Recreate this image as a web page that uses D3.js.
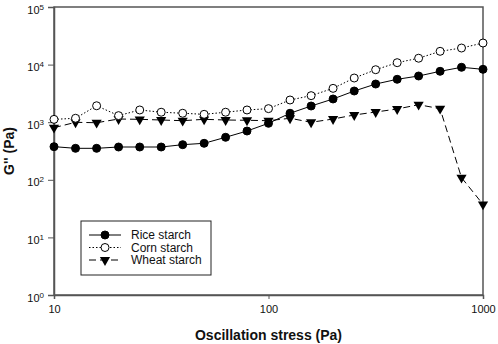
<!DOCTYPE html>
<html>
<head>
<meta charset="utf-8">
<script src="https://cdn.jsdelivr.net/npm/d3@7"></script>
<style>
  body { margin: 0; background: #fff; }
  text { font-family: "Liberation Sans", Arial, sans-serif; }
</style>
</head>
<body>
<div id="chart-area"></div>
<script>
// oscillation stress steps (Pa), 10 per decade
var stress = [10, 12.6, 15.8, 20, 25.1, 31.6, 39.8, 50.1, 63.1, 79.4,
              100, 126, 158, 200, 251, 316, 398, 501, 631, 794, 1000];

var rice = [376, 352, 352, 371, 371, 371, 407, 430, 547, 703,
            957, 1430, 1910, 2530, 3480, 4600, 5560, 6340, 7650, 8980, 8280];
var corn = [1120, 1170, 1930, 1300, 1630, 1490, 1430, 1370, 1490, 1630,
            1720, 2430, 2890, 3870, 5850, 8150, 10800, 12900, 17000, 19400, 23700];
var wheat = [803, 996, 979, 1136, 1122, 1092, 1062, 1122, 1092, 1080,
             1062, 1170, 996, 1136, 1334, 1503, 1694, 2014, 1715, 109, 37.5];

var seriesNames = ['Rice starch', 'Corn starch', 'Wheat starch'];
var xTicks = [10, 100, 1000];
var yTicks = [1, 10, 100, 1000, 10000, 100000];

var margins = { top: 7, bottom: 49, left: 54, right: 15 };
var width = 498 - margins.left - margins.right;
var height = 344 - margins.top - margins.bottom;

var svg = d3.select('#chart-area')
    .append('svg')
    .attr('width', 498)
    .attr('height', 344);

var g = svg.append('g')
    .attr('transform', `translate(${margins.left}, ${margins.top})`);

var x = d3.scaleLog().domain([10, 1000]).range([0, width]);
var y = d3.scaleLog().domain([1, 100000]).range([height, 0]);

var axisColor = '#555';

// frame
g.append('rect')
    .attr('width', width)
    .attr('height', height)
    .attr('fill', 'none')
    .attr('stroke', axisColor)
    .attr('stroke-width', 1.5);

var xAxis = g.append('g')
    .attr('transform', `translate(0, ${height})`)
    .call(d3.axisBottom(x).tickValues(xTicks).tickSize(4).tickPadding(6).tickFormat(d3.format('d')));

var yAxis = g.append('g')
    .call(d3.axisLeft(y).tickValues(yTicks).tickSize(6).tickPadding(4).tickFormat(''));

[xAxis, yAxis].forEach(a => {
    a.select('.domain').attr('stroke', axisColor).attr('stroke-width', 1.5);
    a.selectAll('.tick line').attr('stroke', axisColor).attr('stroke-width', 1);
    a.selectAll('.tick text')
        .attr('fill', '#111')
        .attr('font-size', '11px')
        .attr('font-family', '"Liberation Sans", Arial, sans-serif');
});

yAxis.selectAll('.tick text').each(function(d) {
    var t = d3.select(this);
    t.attr('dy', '0.55em');
    t.append('tspan').text('10');
    t.append('tspan').attr('font-size', '8px').attr('dy', '-0.5em').text(Math.round(Math.log10(d)));
});

g.append('text')
    .attr('x', width / 2)
    .attr('y', height + 45)
    .attr('font-size', '14px')
    .attr('font-weight', 'bold')
    .attr('text-anchor', 'middle')
    .attr('fill', '#111')
    .text('Oscillation stress (Pa)');

g.append('text')
    .attr('transform', 'rotate(-90)')
    .attr('x', -height / 2)
    .attr('y', -40)
    .attr('font-size', '14px')
    .attr('font-weight', 'bold')
    .attr('text-anchor', 'middle')
    .attr('fill', '#111')
    .text("G'' (Pa)");

var series = [
    { name: seriesNames[0], values: rice, dash: null, marker: 'filled' },
    { name: seriesNames[1], values: corn, dash: '1.5,2', marker: 'open' },
    { name: seriesNames[2], values: wheat, dash: '7,4', marker: 'triangle' }
];

var line = d3.line()
    .x((d, i) => x(stress[i]))
    .y(d => y(d));

var tri = d3.symbol().type(d3.symbolTriangle).size(45);

function drawMarker(sel, kind) {
    if (kind === 'triangle') {
        sel.append('path')
            .attr('d', tri)
            .attr('transform', 'rotate(180)')
            .attr('fill', '#000');
    } else {
        sel.append('circle')
            .attr('r', 4)
            .attr('fill', kind === 'filled' ? '#000' : '#fff')
            .attr('stroke', '#000')
            .attr('stroke-width', 1);
    }
}

series.forEach(s => {
    g.append('path')
        .datum(s.values)
        .attr('d', line)
        .attr('fill', 'none')
        .attr('stroke', '#000')
        .attr('stroke-width', 1)
        .attr('stroke-dasharray', s.dash);
});

// markers after lines, wheat first so the others sit on top where they overlap
[series[2], series[1], series[0]].forEach(s => {
    g.selectAll(null)
        .data(s.values)
        .enter()
        .append('g')
        .attr('transform', (d, i) => `translate(${x(stress[i])}, ${y(d)})`)
        .each(function() { drawMarker(d3.select(this), s.marker); });
});

// legend
var legend = g.append('g').attr('transform', 'translate(27, 214)');
legend.append('rect')
    .attr('width', 130)
    .attr('height', 54)
    .attr('fill', '#fff')
    .attr('stroke', '#222')
    .attr('stroke-width', 1);

series.forEach((s, i) => {
    var row = legend.append('g').attr('transform', `translate(0, ${14 + i * 12.5})`);
    row.append('line')
        .attr('x1', 8).attr('x2', 40)
        .attr('stroke', '#000')
        .attr('stroke-width', 1)
        .attr('stroke-dasharray', s.dash);
    drawMarker(row.append('g').attr('transform', 'translate(24, 0)'), s.marker);
    row.append('text')
        .attr('x', 50)
        .attr('dy', '0.35em')
        .attr('font-size', '12px')
        .attr('fill', '#111')
        .text(s.name);
});
</script>
</body>
</html>
